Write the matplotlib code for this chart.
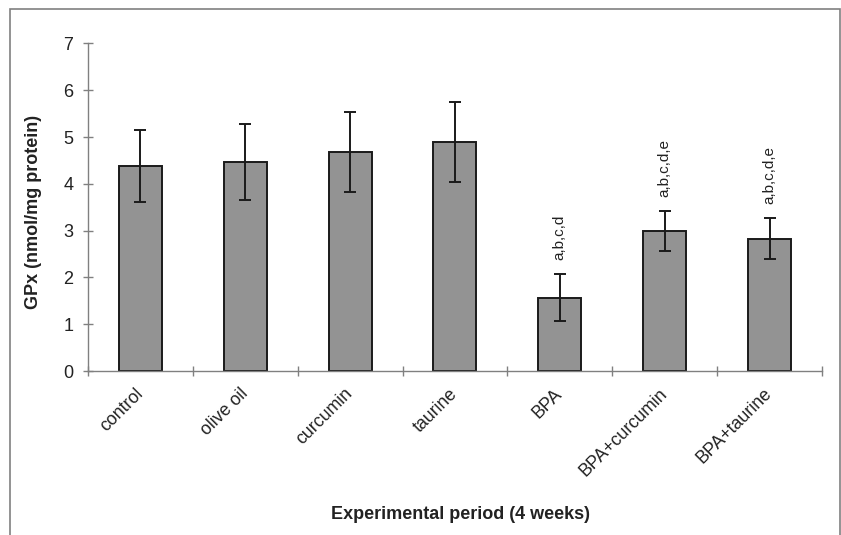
import numpy as np
import matplotlib.pyplot as plt
from matplotlib.patches import Rectangle

plt.rcParams['font.family'] = ['Liberation Sans', 'DejaVu Sans']

groups = ['control', 'olive oil', 'curcumin', 'taurine', 'BPA', 'BPA+curcumin', 'BPA+taurine']
gpx = [4.39, 4.47, 4.68, 4.89, 1.57, 2.99, 2.83]
gpx_err = [0.77, 0.81, 0.86, 0.86, 0.51, 0.43, 0.44]
sig = ['', '', '', '', 'a,b,c,d', 'a,b,c,d,e', 'a,b,c,d,e']

fig = plt.figure(figsize=(8.41, 5.35), dpi=100)
ax = fig.add_axes([0.1046, 0.3065, 0.8728, 0.6122])

x = np.arange(len(groups))
ax.bar(x, gpx, width=0.41, color='#939393', edgecolor='#1a1a1a', linewidth=1.4, zorder=2)
ax.errorbar(x, gpx, yerr=gpx_err, fmt='none', ecolor='#1a1a1a', elinewidth=1.4,
            capsize=4, capthick=1.4, zorder=3)

for i in range(len(groups)):
    if sig[i]:
        ax.annotate(sig[i], (x[i], gpx[i] + gpx_err[i]), xytext=(0, 10),
                    textcoords='offset points', rotation=90, ha='center', va='bottom',
                    fontsize=11, color='#222222')

ax.set_xlim(-0.5, len(groups) - 0.5)
ax.set_ylim(0, 7)
ax.set_yticks(range(0, 8))
ax.set_xticks(np.arange(-0.5, len(groups), 1.0))
ax.set_xticklabels([])
ax.tick_params(axis='both', direction='inout', length=7, width=1, color='#808080',
               labelsize=13, labelcolor='#222222')
ax.tick_params(axis='y', pad=7)
for i, g in enumerate(groups):
    ax.text(x[i], -0.43, g, rotation=45, rotation_mode='anchor', ha='right', va='center',
            fontsize=12.8, color='#222222')

for s in ['top', 'right']:
    ax.spines[s].set_visible(False)
for s in ['left', 'bottom']:
    ax.spines[s].set_color('#808080')
    ax.spines[s].set_linewidth(1)

ax.set_ylabel('GPx (nmol/mg protein)', fontsize=13, fontweight='bold', color='#222222')
ax.yaxis.set_label_coords(-0.063, 0.485)
fig.text(0.547, 0.039, 'Experimental period (4 weeks)', ha='center', va='center',
         fontsize=13, fontweight='bold', color='#222222')

fig.patches.append(Rectangle((0.0119, -0.05), 0.9869, 1.033, transform=fig.transFigure,
                             fill=False, edgecolor='#808080', linewidth=1.2))

fig.savefig('out.png', dpi=100)
